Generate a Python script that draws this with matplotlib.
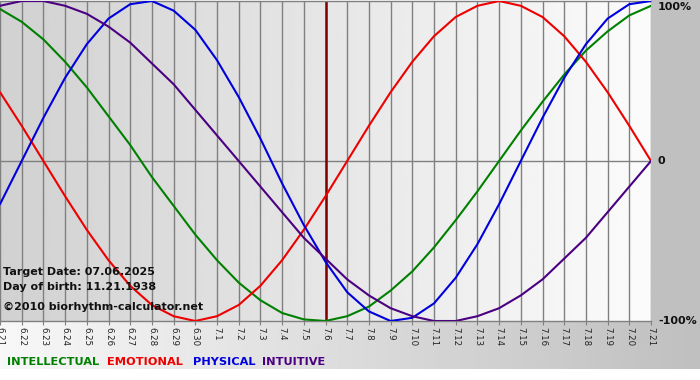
import numpy as np
import matplotlib
matplotlib.use("Agg")
import matplotlib.pyplot as plt
from matplotlib.patches import Rectangle
from matplotlib.transforms import blended_transform_factory

# ---- data ----
dates = ["6.21", "6.22", "6.23", "6.24", "6.25", "6.26", "6.27", "6.28", "6.29", "6.30",
         "7.1", "7.2", "7.3", "7.4", "7.5", "7.6", "7.7", "7.8", "7.9", "7.10",
         "7.11", "7.12", "7.13", "7.14", "7.15", "7.16", "7.17", "7.18", "7.19", "7.20", "7.21"]
target_date = "7.6"

intellectual = [0.95, 0.87, 0.76, 0.62, 0.46, 0.28, 0.10, -0.10, -0.28, -0.46,
                -0.62, -0.76, -0.87, -0.95, -0.99, -1.00, -0.97, -0.91, -0.81, -0.69,
                -0.54, -0.37, -0.19, 0.00, 0.19, 0.37, 0.54, 0.69, 0.81, 0.91, 0.97]
emotional = [0.43, 0.22, 0.00, -0.22, -0.43, -0.62, -0.78, -0.90, -0.97, -1.00,
             -0.97, -0.90, -0.78, -0.62, -0.43, -0.22, 0.00, 0.22, 0.43, 0.62,
             0.78, 0.90, 0.97, 1.00, 0.97, 0.90, 0.78, 0.62, 0.43, 0.22, 0.00]
physical = [-0.27, 0.00, 0.27, 0.52, 0.73, 0.89, 0.98, 1.00, 0.94, 0.82,
            0.63, 0.40, 0.14, -0.14, -0.40, -0.63, -0.82, -0.94, -1.00, -0.98,
            -0.89, -0.73, -0.52, -0.27, 0.00, 0.27, 0.52, 0.73, 0.89, 0.98, 1.00]
intuitive = [0.97, 1.00, 1.00, 0.97, 0.92, 0.84, 0.74, 0.61, 0.48, 0.32,
             0.16, 0.00, -0.16, -0.32, -0.48, -0.61, -0.74, -0.84, -0.92, -0.97,
             -1.00, -1.00, -0.97, -0.92, -0.84, -0.74, -0.61, -0.48, -0.32, -0.16, 0.00]

series_names = ["INTELLECTUAL", "EMOTIONAL", "PHYSICAL", "INTUITIVE"]
series_values = [intellectual, emotional, physical, intuitive]
series_colors = ["#008000", "#ee0000", "#0000dd", "#4b0082"]

y_labels = ["100%", "0", "-100%"]
y_label_vals = [1.0, 0.0, -1.0]

info_lines = ["Target Date: 07.06.2025", "Day of birth: 11.21.1938",
              "\u00a92010 biorhythm-calculator.net"]

# ---- figure ----
W, H = 700, 380
fig = plt.figure(figsize=(W / 100, H / 100), dpi=100)
fig.patch.set_facecolor("white")

# background decoration (pixel coordinates)
bg = fig.add_axes([0, 0, 1, 1], zorder=-1)
bg.set_xlim(0, W)
bg.set_ylim(H, 0)
bg.axis("off")
grad = np.linspace(0.97, 0.75, 256)[None, :]
bg.imshow(grad, cmap="gray", vmin=0, vmax=1, extent=[0, W, 369, 321], aspect="auto")
bg.add_patch(Rectangle((651, 0), W - 651, 321, color="#c0c0c0", lw=0))

# main plot axes
ax_left, ax_right = 0, 651
ax_top, ax_bottom = 1, 321
ax = fig.add_axes([ax_left / W, 1 - ax_bottom / H, (ax_right - ax_left) / W,
                   (ax_bottom - ax_top) / H])
n = len(dates)
x = np.arange(n)
ax.set_xlim(0, n - 1)
ax.set_ylim(-1, 1)

pgrad = np.linspace(0.82, 0.985, 256)[None, :]
ax.imshow(pgrad, cmap="gray", vmin=0, vmax=1, extent=[0, n - 1, -1, 1],
          aspect="auto", zorder=0)

for xi in x:
    ax.axvline(xi, color="#808080", lw=1.0, zorder=1)
ax.axhline(0, color="#808080", lw=1.0, zorder=1)

for sp in ["left", "right"]:
    ax.spines[sp].set_visible(False)
for sp in ["top", "bottom"]:
    ax.spines[sp].set_color("#808080")
    ax.spines[sp].set_linewidth(1.0)

ti = dates.index(target_date)
ax.axvline(ti, color="#800000", lw=1.8, zorder=2)

for vals, col in zip(series_values, series_colors):
    ax.plot(x, vals, color=col, lw=1.5, zorder=3, solid_capstyle="round",
            solid_joinstyle="round")

ax.set_xticks(x)
ax.set_xticklabels(dates, rotation=270, fontsize=6.2, color="#222222")
ax.tick_params(axis="x", length=3, color="#808080", pad=1)
ax.set_yticks([])

# right-hand percentage labels
tr = blended_transform_factory(fig.transFigure, ax.transData)
for lab, v in zip(y_labels, y_label_vals):
    va = "top" if v >= 1 else "center"
    yy = v - 0.005 if v >= 1 else v
    fig.text(658 / W, yy, lab, transform=tr, ha="left", va=va,
             fontsize=8, fontweight="bold", color="#111111")

# info text
info_y = [272, 287, 307]
for txt, yp in zip(info_lines, info_y):
    fig.text(3 / W, 1 - yp / H, txt, ha="left", va="center", fontsize=8.0,
             fontweight="bold", color="#111111")

# legend words
legend_x = [7, 107, 193, 262]
for name, col, lx in zip(series_names, series_colors, legend_x):
    fig.text(lx / W, 1 - 362 / H, name, ha="left", va="center", fontsize=8.2,
             fontweight="bold", color=col)

fig.savefig("out.png", dpi=100)
